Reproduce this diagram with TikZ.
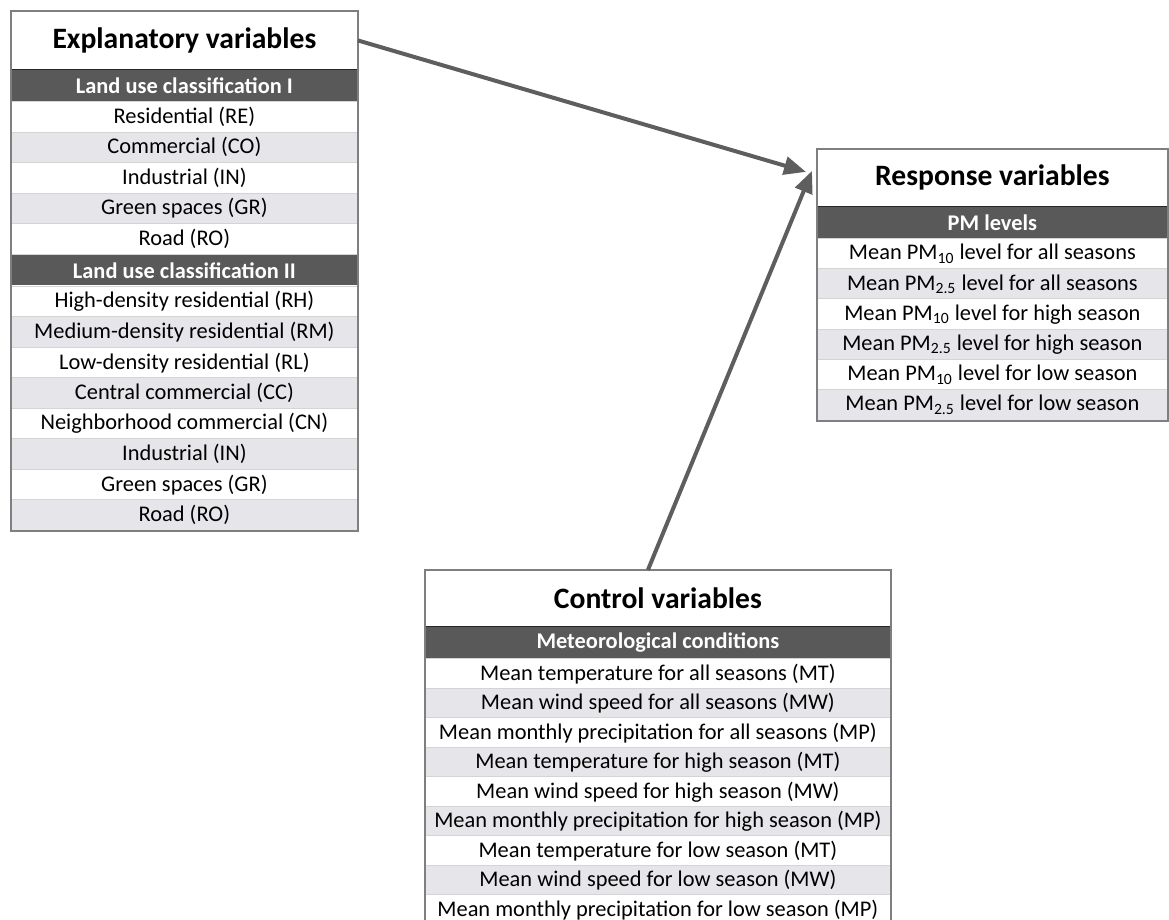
\documentclass[tikz,border=0pt]{standalone}
\usepackage{fontspec}
\setmainfont{Carlito}
\usetikzlibrary{arrows.meta,positioning,calc}
\definecolor{vbFrame}{HTML}{7F7F7F}
\definecolor{vbHead}{HTML}{595959}
\definecolor{vbStripe}{HTML}{E6E6EA}
\definecolor{vbRule}{HTML}{D4D4D4}
\definecolor{vbArrow}{HTML}{5E5E5E}
\tikzset{
  ttl/.style={fill=white, inner sep=0pt, anchor=north west, font=\fontsize{14.8}{17}\selectfont\bfseries},
  hdr/.style={fill=vbHead, text=white, inner sep=0pt, minimum height=15.25pt, font=\fontsize{11.2}{13}\selectfont\bfseries},
  cell/.style={draw=vbRule, line width=0.5pt, inner sep=0pt, minimum height=15.25pt, anchor=north, font=\fontsize{11.2}{13}\selectfont},
  frame/.style={draw=vbFrame, line width=1pt},
  cut/.style={draw=black!85, line width=0.6pt},
  arw/.style={-{Triangle[length=11pt,width=9pt]}, line width=2pt, draw=vbArrow},
}
\begin{document}
\begin{tikzpicture}[x=0.5pt, y=-0.5pt]
  \useasboundingbox (0,0) rectangle (1169,920);
  % explanatory variables
  \node[ttl, minimum width=173pt, minimum height=29pt] (expT) at (11,11) {Explanatory variables};
  \node[hdr, minimum width=173pt, below=0pt of expT] (expH1) {Land use classification I};
  \foreach \t [count=\i] in {Residential (RE), Commercial (CO), Industrial (IN), Green spaces (GR), Road (RO)} {
    \ifodd\i\def\rc{white}\else\def\rc{vbStripe}\fi
    \node[cell, fill=\rc, minimum width=173pt] (expA\i) at ($(expH1.south)+(0,{(\i-1)*30.5})$) {\t};
  }
  \node[hdr, minimum width=173pt, below=0pt of expA5] (expH2) {Land use classification II};
  \foreach \t [count=\i] in {High-density residential (RH), Medium-density residential (RM), Low-density residential (RL), Central commercial (CC), Neighborhood commercial (CN), Industrial (IN), Green spaces (GR), Road (RO)} {
    \ifodd\i\def\rc{white}\else\def\rc{vbStripe}\fi
    \node[cell, fill=\rc, minimum width=173pt] (expB\i) at ($(expH2.south)+(0,{(\i-1)*30.5})$) {\t};
  }
  \draw[cut] (expT.south west) -- (expT.south east);
  \draw[frame] (expT.north west) rectangle (expB8.south east);

  % response variables
  \node[ttl, minimum width=175pt, minimum height=28.5pt] (respT) at (817,149) {Response variables};
  \node[hdr, minimum width=175pt, below=0pt of respT] (respH) {PM levels};
  \foreach \t [count=\i] in {Mean PM\textsubscript{10} level for all seasons, Mean PM\textsubscript{2.5} level for all seasons, Mean PM\textsubscript{10} level for high season, Mean PM\textsubscript{2.5} level for high season, Mean PM\textsubscript{10} level for low season, Mean PM\textsubscript{2.5} level for low season} {
    \ifodd\i\def\rc{white}\else\def\rc{vbStripe}\fi
    \node[cell, fill=\rc, minimum width=175pt] (respA\i) at ($(respH.south)+(0,{(\i-1)*30.2})$) {\t};
  }
  \draw[cut] (respT.south west) -- (respT.south east);
  \draw[frame] (respT.north west) rectangle (respA6.south east);

  % control variables
  \node[ttl, minimum width=232.5pt, minimum height=28pt] (ctlT) at (425,570) {Control variables};
  \node[hdr, minimum width=232.5pt, below=0pt of ctlT] (ctlH) {Meteorological conditions};
  \foreach \t [count=\i] in {Mean temperature for all seasons (MT), Mean wind speed for all seasons (MW), Mean monthly precipitation for all seasons (MP), Mean temperature for high season (MT), Mean wind speed for high season (MW), Mean monthly precipitation for high season (MP), Mean temperature for low season (MT), Mean wind speed for low season (MW), Mean monthly precipitation for low season (MP)} {
    \ifodd\i\def\rc{white}\else\def\rc{vbStripe}\fi
    \node[cell, fill=\rc, minimum width=232.5pt] (ctlA\i) at ($(ctlH.south)+(0,{(\i-1)*29.5})$) {\t};
  }
  \draw[cut] (ctlT.south west) -- (ctlT.south east);
  \draw[frame] (ctlT.north west) rectangle (ctlA9.south east);

  % arrows into the response box
  \coordinate (hitA) at ($(respT.west)+(-11,-6)$);
  \coordinate (hitB) at ($(respT.west)+(-5,-7)$);
  \coordinate (ctlFoot) at ($(ctlT.north)+(-10,0)$);
  \draw[arw] (expT.east) -- (hitA);
  \draw[arw] (ctlFoot) -- (hitB);
\end{tikzpicture}
\end{document}
